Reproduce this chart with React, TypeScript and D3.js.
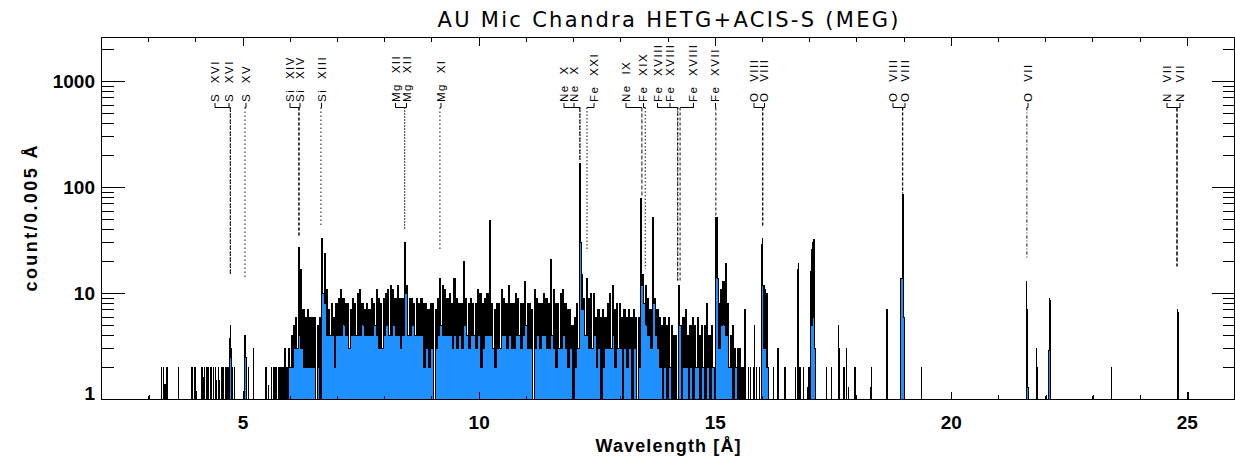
import React from "react";
import * as d3 from "d3";

// ---------------- data ----------------
const titleText = "AU Mic Chandra HETG+ACIS-S (MEG)";
const xTitle = "Wavelength [Å]";
const yTitle = "count/0.005 Å";

const xDomain = [2, 26];
const yDomain = [1, 2600];
const xMajorTicks = [5, 10, 15, 20, 25];
const yMajorTicks = [1, 10, 100, 1000];

// dense part of the spectrum: per 0.05 Å column, the high and low count seen
const denseStart = 5.965;
const denseStep = 0.05;
const denseHigh = [
  3, 4, 5, 6, 27, 17, 7, 6, 7, 6,
  6, 6, 5, 6, 33, 24, 11, 7, 8, 6,
  8, 9, 11, 9, 8, 8, 7, 9, 8, 10,
  11, 8, 7, 8, 7, 9, 8, 11, 9, 8,
  9, 10, 11, 12, 11, 9, 12, 9, 9, 30,
  12, 9, 9, 8, 9, 8, 9, 8, 8, 7,
  8, 8, 7, 9, 14, 12, 11, 9, 10, 8,
  14, 9, 8, 8, 20, 9, 8, 9, 8, 8,
  11, 10, 8, 9, 10, 49, 8, 7, 8, 8,
  11, 9, 8, 12, 8, 8, 10, 9, 8, 8,
  13, 8, 8, 7, 11, 9, 8, 8, 10, 9,
  8, 21, 11, 8, 8, 10, 11, 8, 7, 7,
  5, 6, 8, 170, 15, 9, 14, 9, 10, 10,
  6, 7, 6, 7, 6, 8, 10, 12, 7, 8,
  8, 6, 7, 6, 7, 6, 7, 6, 6, 78,
  15, 12, 9, 7, 52, 9, 7, 6, 5, 6,
  5, 6, 5, 4, 4, 12, 5, 6, 7, 4,
  5, 6, 5, 6, 4, 5, 5, 8, 4, 5,
  2, 52, 8, 11, 13, 19, 8, 4, 5, 3,
  3, 3, 2,
];
const denseLow = [
  2, 2, 3, 3, 4, 3, 2, 2, 2, 2,
  2, 0, 2, 0, 10, 8, 4, 4, 4, 2,
  4, 4, 4, 5, 4, 3, 4, 4, 4, 4,
  4, 5, 4, 4, 4, 4, 5, 4, 3, 3,
  4, 5, 4, 4, 5, 4, 4, 3, 4, 10,
  4, 4, 5, 4, 4, 4, 4, 2, 3, 2,
  3, 0, 3, 4, 5, 4, 4, 4, 4, 3,
  4, 3, 4, 3, 5, 4, 3, 4, 4, 3,
  4, 2, 3, 4, 4, 4, 3, 2, 3, 3,
  4, 4, 3, 4, 3, 3, 4, 4, 3, 4,
  5, 3, 3, 0, 3, 4, 3, 4, 4, 3,
  3, 4, 3, 2, 3, 3, 4, 3, 2, 3,
  0, 2, 3, 30, 7, 4, 4, 3, 3, 4,
  2, 3, 0, 2, 3, 3, 3, 4, 2, 3,
  3, 0, 3, 2, 3, 0, 3, 0, 2, 12,
  8, 5, 4, 3, 8, 4, 3, 2, 0, 2,
  0, 2, 0, 0, 0, 5, 0, 2, 2, 0,
  2, 0, 2, 2, 0, 2, 0, 2, 0, 2,
  0, 14, 3, 5, 5, 4, 2, 2, 0, 2,
  0, 0, 0,
];

// sparse part: [start Å, end Å, count]
const sparseBins: [number, number, number][] = [
  [3.015, 3.02, 1.1], [3.275, 3.28, 2], [3.308, 3.313, 2], [3.345, 3.35, 1.4], [3.383, 3.388, 2],
  [3.63, 3.635, 2], [3.91, 3.915, 2], [3.92, 3.925, 2], [3.98, 3.985, 2], [3.995, 4.0, 1.4],
  [4.015, 4.02, 1.2], [4.12, 4.13, 2], [4.155, 4.16, 1.6], [4.175, 4.18, 2], [4.23, 4.235, 2],
  [4.265, 4.27, 2], [4.3, 4.305, 2], [4.335, 4.34, 2], [4.37, 4.375, 2], [4.405, 4.41, 2],
  [4.435, 4.44, 1.5], [4.475, 4.48, 2], [4.505, 4.51, 1.5], [4.545, 4.555, 2], [4.58, 4.585, 2],
  [4.635, 4.645, 2], [4.675, 4.68, 2], [4.705, 4.725, 3.8], [4.725, 4.73, 5], [4.73, 4.745, 2.5],
  [4.755, 4.76, 3], [4.77, 4.775, 2], [4.815, 4.82, 2], [5.005, 5.01, 1.2], [5.035, 5.05, 4],
  [5.05, 5.065, 2.5], [5.075, 5.08, 2], [5.11, 5.115, 2], [5.21, 5.22, 2.3], [5.22, 5.225, 3],
  [5.465, 5.47, 2], [5.5, 5.505, 2], [5.535, 5.54, 1.35], [5.605, 5.61, 2], [5.64, 5.645, 2],
  [5.675, 5.685, 2], [5.71, 5.715, 2], [5.745, 5.75, 2], [5.78, 5.8, 2], [5.815, 5.83, 2],
  [5.85, 5.855, 2], [5.885, 5.895, 3], [5.92, 5.925, 2], [5.945, 5.955, 2],
  [15.625, 15.635, 7], [15.635, 15.645, 2], [15.695, 15.7, 2], [15.745, 15.755, 2], [15.805, 15.81, 2],
  [15.835, 15.84, 5], [15.87, 15.88, 2], [15.93, 15.935, 2], [15.975, 15.995, 29], [15.995, 16.01, 33],
  [16.01, 16.015, 12], [16.015, 16.03, 3], [16.03, 16.035, 12], [16.035, 16.05, 3], [16.05, 16.055, 11],
  [16.055, 16.08, 3], [16.08, 16.085, 10], [16.085, 16.105, 2], [16.105, 16.11, 10], [16.11, 16.13, 2],
  [16.225, 16.235, 2], [16.33, 16.335, 3], [16.475, 16.48, 2], [16.705, 16.71, 2], [16.74, 16.755, 17],
  [16.755, 16.765, 19], [16.77, 16.775, 2], [16.79, 16.795, 2], [16.8, 16.805, 2], [16.86, 16.865, 2],
  [16.945, 16.95, 1.3], [16.985, 16.99, 2], [17.02, 17.04, 16], [17.04, 17.05, 5], [17.05, 17.055, 26],
  [17.055, 17.07, 5], [17.07, 17.075, 30], [17.075, 17.085, 6], [17.085, 17.095, 32], [17.095, 17.11, 4],
  [17.11, 17.12, 3], [17.355, 17.365, 2], [17.46, 17.465, 2], [17.615, 17.62, 5], [17.625, 17.63, 3],
  [17.72, 17.73, 2], [17.78, 17.785, 3], [17.815, 17.82, 1.3], [17.955, 17.97, 2], [17.98, 17.985, 1.1],
  [18.3, 18.31, 1.3], [18.315, 18.32, 2], [18.62, 18.635, 4.3], [18.635, 18.64, 7], [18.645, 18.66, 2],
  [18.93, 18.965, 14], [18.965, 18.98, 86], [18.98, 19.005, 6], [19.375, 19.38, 2], [20.01, 20.015, 1.15],
  [21.0, 21.005, 1.1], [21.585, 21.595, 10], [21.595, 21.6, 13], [21.6, 21.605, 7], [21.605, 21.62, 3],
  [21.62, 21.635, 1.3], [21.8, 21.805, 3], [21.805, 21.82, 2], [22.02, 22.025, 1.1], [22.07, 22.085, 2.9],
  [22.085, 22.09, 9], [22.09, 22.095, 3], [22.095, 22.1, 8.5], [23.01, 23.015, 1.1], [23.385, 23.39, 2],
  [24.0, 24.005, 1.1], [24.79, 24.795, 7], [24.795, 24.8, 2], [24.8, 24.805, 6.6], [25.02, 25.025, 1.17],
];

// line identifications
const lineIons = [
  "S XVI", "S XVI", "S XV", "Si XIV", "Si XIV", "Si XIII", "Mg XII", "Mg XII", "Mg XI",
  "Ne X", "Ne X", "Fe XXI", "Ne IX", "Fe XIX", "Fe XVIII", "Fe XVIII", "Fe XVIII", "Fe XVII",
  "O VIII", "O VIII", "O VIII", "O VIII", "O VII", "N VII", "N VII",
];
const lineWavelengths = [
  4.727, 4.733, 5.039, 6.18, 6.186, 6.648, 8.419, 8.425, 9.169,
  12.132, 12.137, 12.284, 13.447, 13.518, 14.204, 14.208, 14.256, 15.014,
  16.006, 16.007, 18.967, 18.973, 21.602, 24.779, 24.785,
];
const labelWavelengths = [
  4.405, 4.701, 5.061, 5.993, 6.205, 6.661, 8.228, 8.461, 9.192,
  11.797, 12.009, 12.433, 13.11, 13.481, 13.778, 14.042, 14.54, 15.006,
  15.822, 16.044, 18.766, 19.02, 21.626, 24.57, 24.845,
];
const lineTopCounts = [
  15, 15, 14, 34, 34, 43, 40, 40, 25,
  175, 175, 25, 80, 17, 13, 13, 13, 54,
  43, 43, 88, 88, 21, 18, 18,
];

// ---------------- styles ----------------
const connectorDash = [
  "4,2", "1.5,1.5", "1.5,2.5", "3,2", "3,2", "1.5,2.5", "1,2", "1,2", "1.5,2.5",
  "4,2", "1.5,1.5", "1.5,2", "4,2", "1.5,2", "3,2", "1.5,2", "3,2", "3,2",
  "3,2", "3,2", "3,2", "3,2", "3,2,1,2", "4,2", "4,2",
];

const W = 1235;
const H = 461;
const M = { left: 101.5, right: 1234.5, top: 37.5, bottom: 399.5 };
const FONT = "'Liberation Sans', Arial, Helvetica, sans-serif";

type Pt = { w: number; c: number; lo: number };

export default function App() {
  const x = d3.scaleLinear().domain(xDomain).range([M.left, M.right]);
  const y = d3.scaleLog().domain(yDomain).range([M.bottom, M.top]);
  const yc = (c: number) => y(Math.max(c, 0.5));

  // build histogram bins; lo = lowest level reached within the pixel column
  const bins: { x0: number; x1: number; c: number; lo: number }[] = [];
  denseHigh.forEach((hi, i) => {
    const a = denseStart + i * denseStep;
    const lo = denseLow[i];
    bins.push({ x0: a, x1: a + denseStep / 2, c: hi, lo });
    bins.push({ x0: a + denseStep / 2, x1: a + denseStep, c: lo, lo });
  });
  sparseBins.forEach(([a, b, c]) => bins.push({ x0: a, x1: b, c, lo: c }));
  bins.sort((p, q) => p.x0 - q.x0);

  const pts: Pt[] = [{ w: xDomain[0], c: 0, lo: 0 }];
  let end = xDomain[0];
  for (const b of bins) {
    if (b.x0 > end + 1e-6) pts.push({ w: end, c: 0, lo: 0 });
    pts.push({ w: b.x0, c: b.c, lo: b.lo });
    end = b.x1;
  }
  pts.push({ w: end, c: 0, lo: 0 });
  pts.push({ w: xDomain[1], c: 0, lo: 0 });

  const linePath = d3
    .line<Pt>()
    .x((d) => x(d.w))
    .y((d) => yc(d.c))
    .curve(d3.curveStepAfter)(pts) as string;
  const blueArea = d3
    .area<Pt>()
    .x((d) => x(d.w))
    .y0(y(0.5))
    .y1((d) => yc(d.lo))
    .curve(d3.curveStepAfter)(pts) as string;
  const blackArea = d3
    .area<Pt>()
    .x((d) => x(d.w))
    .y0((d) => yc(d.lo))
    .y1((d) => yc(d.c))
    .curve(d3.curveStepAfter)(pts) as string;

  // ticks
  const xMinor = d3.range(3, 26).filter((v) => v % 5 !== 0);
  const yMinor: number[] = [];
  yMajorTicks.forEach((dec) => {
    for (let k = 2; k <= 9; k++) if (dec * k <= yDomain[1]) yMinor.push(dec * k);
  });

  const bracketY = 107.5;
  const textBottom = 103;

  return (
    <svg
      width={W}
      height={H}
      style={{ position: "absolute", left: 0, top: 0, background: "#fff" }}
      fontFamily={FONT}
    >
      <rect x={0} y={0} width={W} height={H} fill="#fff" />
      <defs>
        <clipPath id="plotclip">
          <rect x={M.left} y={M.top} width={M.right - M.left} height={M.bottom - M.top} />
        </clipPath>
      </defs>

      {/* spectrum */}
      <g clipPath="url(#plotclip)">
        <path d={blueArea} fill="#1E90FF" stroke="none" shapeRendering="crispEdges" />
        <path d={blackArea} fill="#000" stroke="none" shapeRendering="crispEdges" />
        <path d={linePath} fill="none" stroke="#000" strokeWidth={1} shapeRendering="crispEdges" />
      </g>

      {/* line identifications */}
      <g>
        {lineIons.map((ion, i) => {
          const lx = x(labelWavelengths[i]);
          const vx = x(lineWavelengths[i]);
          return (
            <g key={i}>
              <line x1={lx} x2={vx} y1={bracketY} y2={bracketY} stroke="#000" strokeWidth={1} />
              <line x1={lx} x2={lx} y1={textBottom} y2={bracketY} stroke="#000" strokeWidth={1} />
              <line
                x1={vx}
                x2={vx}
                y1={bracketY}
                y2={y(lineTopCounts[i])}
                stroke="#111"
                strokeWidth={1}
                strokeDasharray={connectorDash[i]}
              />
              <text
                transform={`translate(${lx + 4},${textBottom - 1}) rotate(-90)`}
                fontSize={11.5}
                letterSpacing={1.5}
                wordSpacing={5}
                fill="#000"
              >
                {ion}
              </text>
            </g>
          );
        })}
      </g>

      {/* frame */}
      <rect
        x={M.left}
        y={M.top}
        width={M.right - M.left}
        height={M.bottom - M.top}
        fill="none"
        stroke="#000"
        strokeWidth={1}
        shapeRendering="crispEdges"
      />

      {/* ticks */}
      <g stroke="#000" strokeWidth={1} shapeRendering="crispEdges">
        {xMajorTicks.map((v) => (
          <g key={"xM" + v}>
            <line x1={x(v)} x2={x(v)} y1={M.bottom} y2={M.bottom - 8} />
            <line x1={x(v)} x2={x(v)} y1={M.top} y2={M.top + 8} />
          </g>
        ))}
        {xMinor.map((v) => (
          <g key={"xm" + v}>
            <line x1={x(v)} x2={x(v)} y1={M.bottom} y2={M.bottom - 4} />
            <line x1={x(v)} x2={x(v)} y1={M.top} y2={M.top + 4} />
          </g>
        ))}
        {yMajorTicks.map((v) => (
          <g key={"yM" + v}>
            <line x1={M.left} x2={M.left + 23} y1={y(v)} y2={y(v)} />
            <line x1={M.right} x2={M.right - 23} y1={y(v)} y2={y(v)} />
          </g>
        ))}
        {yMinor.map((v) => (
          <g key={"ym" + v}>
            <line x1={M.left} x2={M.left + 12} y1={y(v)} y2={y(v)} />
            <line x1={M.right} x2={M.right - 12} y1={y(v)} y2={y(v)} />
          </g>
        ))}
      </g>

      {/* tick labels */}
      <g fontSize={19} fontWeight="bold" fill="#000">
        {xMajorTicks.map((v) => (
          <text key={"xl" + v} x={x(v)} y={429} textAnchor="middle">
            {v}
          </text>
        ))}
        {yMajorTicks.map((v) => (
          <text
            key={"yl" + v}
            x={95}
            y={Math.min(y(v), M.bottom - 7) + 7}
            textAnchor="end"
          >
            {v}
          </text>
        ))}
      </g>

      {/* titles */}
      <text
        x={(M.left + M.right) / 2}
        y={27}
        textAnchor="middle"
        fontFamily="'DejaVu Sans', sans-serif"
        fontSize={21}
        textLength={461}
        lengthAdjust="spacing"
        fill="#000"
      >
        {titleText}
      </text>
      <text
        x={(M.left + M.right) / 2}
        y={452}
        textAnchor="middle"
        fontSize={18}
        fontWeight="bold"
        textLength={145}
        lengthAdjust="spacing"
        fill="#000"
      >
        {xTitle}
      </text>
      <text
        transform={`translate(37,${(M.top + M.bottom) / 2}) rotate(-90)`}
        textAnchor="middle"
        fontSize={18}
        fontWeight="bold"
        textLength={146}
        lengthAdjust="spacing"
        fill="#000"
      >
        {yTitle}
      </text>
    </svg>
  );
}
